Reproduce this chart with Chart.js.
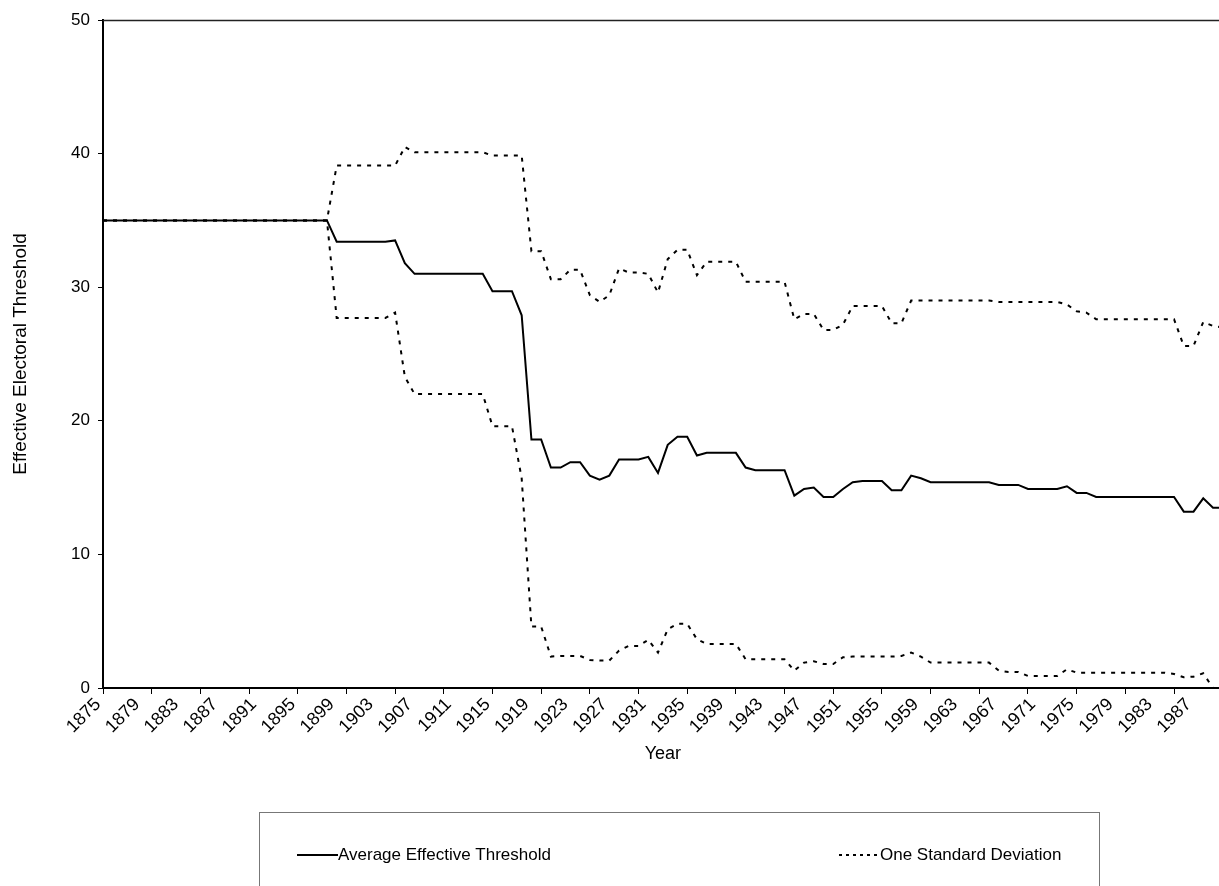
<!DOCTYPE html>
<html>
<head>
<meta charset="utf-8">
<script src="https://cdn.jsdelivr.net/npm/chart.js@4.4.1/dist/chart.umd.min.js"></script>
<style>
  html, body { margin: 0; padding: 0; background: #fff; overflow: hidden; width: 1219px; height: 886px; }
  canvas { display: block; }
</style>
</head>
<body>
<canvas id="chart" width="1238" height="886"></canvas>
<script>
// years 1875..1990, one category per year
const years = [];
for (let y = 1875; y <= 1990; y++) years.push(String(y));

const avgThreshold = [
  35, 35, 35, 35, 35, 35, 35, 35, 35, 35, 35, 35, 35, 35, 35, 35, 35, 35, 35, 35, 35, 35, 35, 35,
  33.4, 33.4, 33.4, 33.4, 33.4, 33.4, 33.5,
  31.8, 31.0, 31.0, 31.0, 31.0, 31.0, 31.0, 31.0, 31.0,
  29.7, 29.7, 29.7, 27.9,
  18.6, 18.6, 16.5, 16.5, 16.9, 16.9,
  15.9, 15.6, 15.9, 17.1, 17.1, 17.1,
  17.3, 16.1, 18.2, 18.8, 18.8, 17.4,
  17.6, 17.6, 17.6, 17.6,
  16.5, 16.3, 16.3, 16.3, 16.3,
  14.4, 14.9, 15.0, 14.3, 14.3, 14.9, 15.4, 15.5, 15.5, 15.5, 14.8, 14.8, 15.9, 15.7,
  15.4, 15.4, 15.4, 15.4, 15.4, 15.4, 15.4,
  15.2, 15.2, 15.2,
  14.9, 14.9, 14.9, 14.9,
  15.1, 14.6, 14.6,
  14.3, 14.3, 14.3, 14.3, 14.3, 14.3, 14.3, 14.3, 14.3,
  13.2, 13.2, 14.2, 13.5, 13.5
];

const upperSD = [
  35, 35, 35, 35, 35, 35, 35, 35, 35, 35, 35, 35, 35, 35, 35, 35, 35, 35, 35, 35, 35, 35, 35, 35,
  39.1, 39.1, 39.1, 39.1, 39.1, 39.1, 39.1,
  40.5, 40.1, 40.1, 40.1, 40.1, 40.1, 40.1, 40.1, 40.1,
  39.85, 39.85, 39.85, 39.85,
  32.7, 32.7, 30.6, 30.6, 31.3, 31.3,
  29.4, 28.9, 29.4, 31.4, 31.1, 31.1,
  31.0, 29.6, 32.1, 32.8, 32.8, 30.9,
  31.9, 31.9, 31.9, 31.9,
  30.4, 30.4, 30.4, 30.4, 30.4,
  27.6, 28.0, 28.0, 26.8, 26.8, 27.2, 28.6, 28.6, 28.6, 28.6, 27.3, 27.3, 29.0, 29.0,
  29.0, 29.0, 29.0, 29.0, 29.0, 29.0, 29.0,
  28.9, 28.9, 28.9, 28.9, 28.9, 28.9, 28.9,
  28.7, 28.2, 28.1,
  27.6, 27.6, 27.6, 27.6, 27.6, 27.6, 27.6, 27.6, 27.6,
  25.6, 25.6, 27.4, 27.1, 27.0
];

const lowerSD = [
  35, 35, 35, 35, 35, 35, 35, 35, 35, 35, 35, 35, 35, 35, 35, 35, 35, 35, 35, 35, 35, 35, 35, 35,
  27.7, 27.7, 27.7, 27.7, 27.7, 27.7, 28.1,
  23.3, 22.0, 22.0, 22.0, 22.0, 22.0, 22.0, 22.0, 22.0,
  19.6, 19.6, 19.6, 15.7,
  4.6, 4.6, 2.35, 2.4, 2.4, 2.4,
  2.1, 2.05, 2.05, 2.8, 3.15, 3.15,
  3.6, 2.65, 4.4, 4.8, 4.8, 3.65,
  3.3, 3.3, 3.3, 3.3,
  2.15, 2.15, 2.15, 2.15, 2.15,
  1.3, 1.9, 2.0, 1.8, 1.8, 2.3, 2.35, 2.35, 2.35, 2.35, 2.35, 2.4, 2.65, 2.35,
  1.9, 1.9, 1.9, 1.9, 1.9, 1.9, 1.9,
  1.3, 1.2, 1.2,
  0.9, 0.9, 0.9, 0.9,
  1.4, 1.15, 1.15, 1.15, 1.15, 1.15, 1.15, 1.15, 1.15, 1.15, 1.15, 1.05,
  0.8, 0.85, 1.1, 0, 0
];

const yTicks = [0, 10, 20, 30, 40, 50];

Chart.defaults.font.family = "'Liberation Sans', Arial, sans-serif";
Chart.defaults.color = '#000';

// plot frame + the boxed legend under the chart
const frameAndLegend = {
  id: 'frameAndLegend',
  beforeDatasetsDraw(chart) {
    const { ctx, chartArea } = chart;
    ctx.save();
    ctx.strokeStyle = '#222';
    ctx.lineWidth = 1.5;
    ctx.beginPath();
    ctx.moveTo(chartArea.left, chartArea.top + 0.5);
    ctx.lineTo(chartArea.right, chartArea.top + 0.5);
    ctx.stroke();
    ctx.restore();
  },
  afterDraw(chart) {
    const ctx = chart.ctx;
    const ds = chart.data.datasets;
    ctx.save();
    ctx.strokeStyle = '#777';
    ctx.lineWidth = 1;
    ctx.strokeRect(259.5, 812.5, 840, 120);

    const items = [
      { d: ds[0], x: 297, dash: [] },
      { d: ds[1], x: 839, dash: [3, 4] },
    ];
    ctx.font = "17px 'Liberation Sans', Arial, sans-serif";
    ctx.textBaseline = 'middle';
    ctx.fillStyle = '#000';
    items.forEach(({ d, x, dash }) => {
      ctx.strokeStyle = d.borderColor;
      ctx.lineWidth = d.borderWidth;
      ctx.setLineDash(dash);
      ctx.beginPath();
      ctx.moveTo(x, 855);
      ctx.lineTo(x + 41, 855);
      ctx.stroke();
      ctx.fillText(d.label, x + 41, 855);
    });
    ctx.restore();
  }
};

const ctx = document.getElementById('chart').getContext('2d');
const thresholdChart = new Chart(ctx, {
  type: 'line',
  data: {
    labels: years,
    datasets: [
      {
        label: 'Average Effective Threshold',
        data: avgThreshold,
        borderColor: '#000',
        borderWidth: 2,
        pointRadius: 0,
        tension: 0,
      },
      {
        label: 'One Standard Deviation',
        data: upperSD,
        borderColor: '#000',
        borderWidth: 2,
        borderDash: [4, 6],
        pointRadius: 0,
        tension: 0,
      },
      {
        label: 'One Standard Deviation (lower)',
        data: lowerSD,
        borderColor: '#000',
        borderWidth: 2,
        borderDash: [4, 6],
        pointRadius: 0,
        tension: 0,
      },
    ],
  },
  options: {
    responsive: false,
    animation: false,
    layout: { padding: { top: 20, right: 0, bottom: 121, left: 0 } },
    plugins: {
      legend: { display: false },
      tooltip: { enabled: false },
    },
    scales: {
      x: {
        offset: false,
        border: { color: '#000', width: 2 },
        grid: {
          drawOnChartArea: false,
          tickLength: 6,
          tickColor: (c) => (c.index % 5 === 0 ? '#000' : 'rgba(0,0,0,0)'),
        },
        ticks: {
          autoSkip: false,
          maxRotation: 45,
          minRotation: 45,
          padding: 0,
          labelOffset: -5,
          font: { size: 18 },
          callback: function (val, i) {
            return i % 4 === 0 ? this.getLabelForValue(val) : '';
          },
        },
        title: {
          display: true,
          text: 'Year',
          font: { size: 18 },
          padding: { top: 2, bottom: 0 },
        },
        afterFit: (s) => { s.height = 77; },
      },
      y: {
        min: 0,
        max: 50,
        border: { color: '#000', width: 2 },
        grid: { drawOnChartArea: false, tickLength: 5, tickColor: '#000' },
        afterBuildTicks: (s) => { s.ticks = yTicks.map((v) => ({ value: v })); },
        ticks: { padding: 8, font: { size: 17 } },
        title: {
          display: true,
          text: 'Effective Electoral Threshold',
          font: { size: 19 },
          padding: { top: 9, bottom: 0 },
        },
        afterFit: (s) => { s.width = 103; },
      },
    },
  },
  plugins: [frameAndLegend],
});
</script>
</body>
</html>
